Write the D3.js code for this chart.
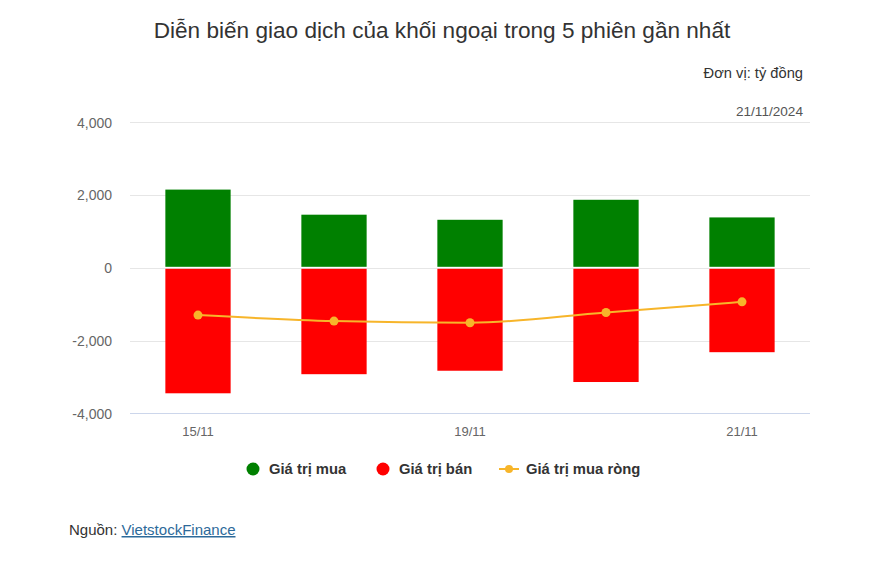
<!DOCTYPE html>
<html><head><meta charset="utf-8">
<script src="https://cdn.jsdelivr.net/npm/d3@7/dist/d3.min.js"></script>
<style>
body{margin:0;background:#fff;font-family:"Liberation Sans",Arial,sans-serif;}
</style></head>
<body><svg id="c" width="872" height="563"></svg>
<script>
const categories = ["15/11","18/11","19/11","20/11","21/11"];
const buyValues = [2150, 1460, 1320, 1870, 1385];
const sellValues = [-3450, -2925, -2830, -3140, -2320];
const netValues = [-1300, -1465, -1510, -1230, -935];
const yTicks = [-4000, -2000, 0, 2000, 4000];
const seriesNames = ["Giá trị mua","Giá trị bán","Giá trị mua ròng"];
const colors = {buy:"#008000", sell:"#ff0000", net:"#f7b52a"};

const svg = d3.select("#c");
const m = {l:130, r:810, t:122.3, b:413.3};
const x = d3.scaleBand().domain(categories).range([m.l, m.r]).paddingInner(0.52).paddingOuter(0.26);
const y = d3.scaleLinear().domain([-4000, 4000]).range([m.b, m.t]);
const fmt = d3.formatLocale({decimal:".", thousands:",", grouping:[3], currency:["",""], minus:"-"}).format(",");

svg.append("text").attr("x",442).attr("y",38).attr("text-anchor","middle")
  .attr("font-size",22.6).attr("fill","#333").text("Diễn biến giao dịch của khối ngoại trong 5 phiên gần nhất");
svg.append("text").attr("x",803).attr("y",78).attr("text-anchor","end")
  .attr("font-size",14.7).attr("fill","#333").text("Đơn vị: tỷ đồng");
svg.append("text").attr("x",803).attr("y",116).attr("text-anchor","end")
  .attr("font-size",13.6).attr("fill","#555").text("21/11/2024");

// grid
svg.append("g").selectAll("line").data(yTicks).join("line")
  .attr("x1",m.l).attr("x2",m.r).attr("y1",d=>Math.round(y(d))+0.5).attr("y2",d=>Math.round(y(d))+0.5)
  .attr("stroke",d=>d===-4000?"#ccd6eb":"#e6e6e6").attr("stroke-width",1);

// y axis labels
const yAxis = d3.axisLeft(y).tickValues(yTicks).tickSize(0).tickFormat(fmt);
const ga = svg.append("g").attr("transform",`translate(${m.l-18},0)`).call(yAxis);
ga.select(".domain").remove();
ga.selectAll("text").attr("font-size",14).attr("fill","#666").attr("font-family","Liberation Sans, Arial, sans-serif").attr("dy","0.35em").attr("x",0);

// x axis labels (step 2)
const xAxis = d3.axisBottom(x).tickSize(0).tickFormat((d,i)=> i%2===0 ? d : "");
const gx = svg.append("g").attr("transform",`translate(0,${m.b})`).call(xAxis);
gx.select(".domain").remove();
gx.selectAll("text").attr("font-size",13).attr("fill","#666").attr("font-family","Liberation Sans, Arial, sans-serif").attr("y",13);

// bars
svg.append("g").selectAll("rect").data(buyValues).join("rect")
  .attr("x",(d,i)=>x(categories[i])).attr("width",x.bandwidth())
  .attr("y",d=>y(d)).attr("height",d=>y(0)-y(d)-1).attr("fill",colors.buy);
svg.append("g").selectAll("rect").data(sellValues).join("rect")
  .attr("x",(d,i)=>x(categories[i])).attr("width",x.bandwidth())
  .attr("y",d=>y(0)+1).attr("height",d=>y(d)-y(0)-1).attr("fill",colors.sell);

// net line
const cx = (i)=>x(categories[i])+x.bandwidth()/2;
const line = d3.line().x((d,i)=>cx(i)).y(d=>y(d)).curve(d3.curveMonotoneX);
svg.append("path").datum(netValues).attr("d",line).attr("fill","none")
  .attr("stroke",colors.net).attr("stroke-width",2);
svg.append("g").selectAll("circle").data(netValues).join("circle")
  .attr("cx",(d,i)=>cx(i)).attr("cy",d=>y(d)).attr("r",4.5).attr("fill",colors.net);

// legend
const lg = svg.append("g");
const ly = 469;
lg.append("circle").attr("cx",253).attr("cy",ly).attr("r",6.5).attr("fill",colors.buy);
lg.append("text").attr("x",269).attr("y",ly+5).attr("font-size",14.8).attr("font-weight","bold").attr("fill","#333").text(seriesNames[0]);
lg.append("circle").attr("cx",383).attr("cy",ly).attr("r",6.5).attr("fill",colors.sell);
lg.append("text").attr("x",399).attr("y",ly+5).attr("font-size",14.8).attr("font-weight","bold").attr("fill","#333").text(seriesNames[1]);
lg.append("line").attr("x1",499).attr("x2",519).attr("y1",ly).attr("y2",ly).attr("stroke",colors.net).attr("stroke-width",2);
lg.append("circle").attr("cx",509).attr("cy",ly).attr("r",4).attr("fill",colors.net);
lg.append("text").attr("x",526).attr("y",ly+5).attr("font-size",14.8).attr("font-weight","bold").attr("fill","#333").text(seriesNames[2]);

// source
const src = svg.append("text").attr("x",69).attr("y",535).attr("font-size",15).attr("fill","#333");
src.append("tspan").text("Nguồn: ");
src.append("tspan").attr("fill","#2d6a9a").attr("text-decoration","underline").text("VietstockFinance");
</script></body></html>
